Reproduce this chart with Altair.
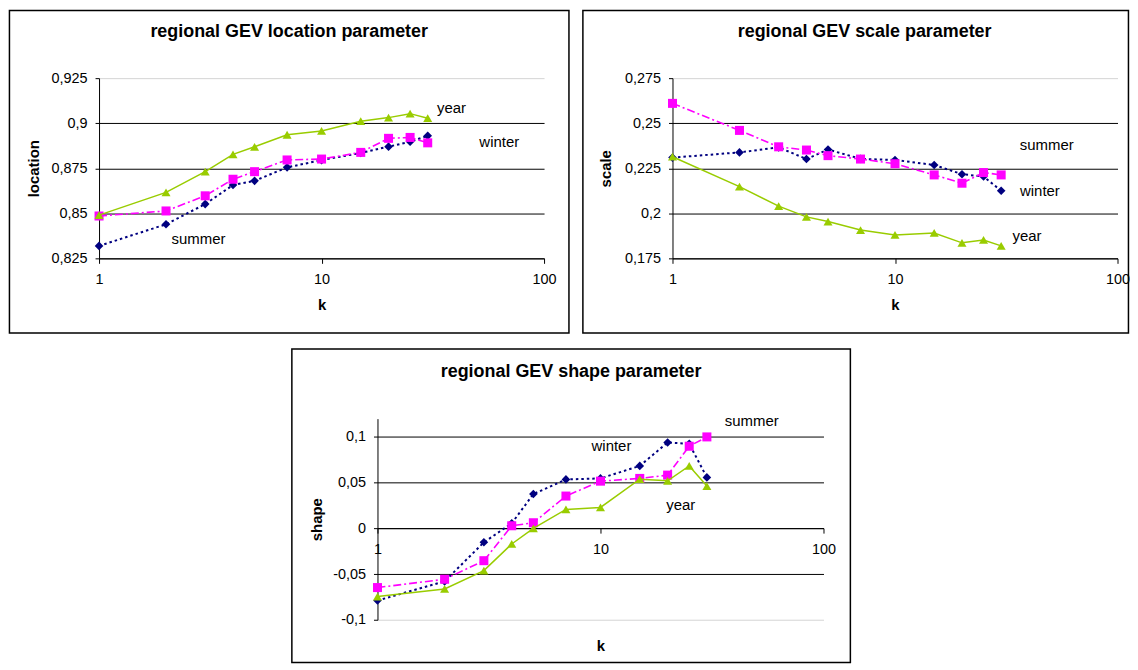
import altair as alt
import pandas as pd

# ---------------- data ----------------
K = [1, 2, 3, 4, 5, 7, 10, 15, 20, 25, 30]

LOC_WINTER = [0.8319, 0.8439, 0.8551, 0.8657, 0.8680, 0.8755, 0.8795, 0.8835, 0.8870, 0.8897, 0.8930]
LOC_SUMMER = [0.8485, 0.8513, 0.8597, 0.8689, 0.8731, 0.8796, 0.8801, 0.8838, 0.8916, 0.8921, 0.8891]
LOC_YEAR = [0.8490, 0.8616, 0.8731, 0.8827, 0.8869, 0.8936, 0.8957, 0.9011, 0.9031, 0.9053, 0.9028]

SCALE_WINTER = [0.2309, 0.2338, 0.2366, 0.2301, 0.2354, 0.2302, 0.2296, 0.2268, 0.2217, 0.2204, 0.2125]
SCALE_SUMMER = [0.2610, 0.2460, 0.2369, 0.2351, 0.2320, 0.2301, 0.2275, 0.2213, 0.2167, 0.2226, 0.2213]
SCALE_YEAR = [0.2314, 0.2148, 0.2040, 0.1980, 0.1954, 0.1907, 0.1880, 0.1891, 0.1836, 0.1852, 0.1819]

SHAPE_WINTER = [-0.0790, -0.0580, -0.0153, 0.0055, 0.0375, 0.0535, 0.0546, 0.0683, 0.0939, 0.0924, 0.0557]
SHAPE_SUMMER = [-0.0648, -0.0557, -0.0354, 0.0028, 0.0061, 0.0353, 0.0516, 0.0546, 0.0582, 0.0898, 0.1000]
SHAPE_YEAR = [-0.0747, -0.0663, -0.0463, -0.0171, 0.0000, 0.0207, 0.0229, 0.0538, 0.0520, 0.0683, 0.0462]

LOC_LABEL_TEXT = ["year", "winter", "summer"]
LOC_LABEL_K = [38.4, 62.9, 2.8]
LOC_LABEL_V = [0.9085, 0.8897, 0.8358]

SCALE_LABEL_TEXT = ["summer", "winter", "year"]
SCALE_LABEL_K = [48.1, 44.8, 39.2]
SCALE_LABEL_V = [0.2377, 0.2125, 0.1875]

SHAPE_LABEL_TEXT = ["summer", "winter", "year"]
SHAPE_LABEL_K = [47.7, 11.2, 22.9]
SHAPE_LABEL_V = [0.1171, 0.0898, 0.0251]

X_TICKS = [1, 10, 100]
LOC_TICKS = [0.825, 0.85, 0.875, 0.9, 0.925]
SCALE_TICKS = [0.175, 0.2, 0.225, 0.25, 0.275]
SHAPE_TICKS = [-0.1, -0.05, 0, 0.05, 0.1]

FONT = "Liberation Sans"

STYLE = {
    "winter": dict(color="#000080", dash=[2.5, 3], width=2, shape="diamond", size=75),
    "summer": dict(color="#FF00FF", dash=[8, 3, 2, 3], width=1.6, shape="square", size=82),
    "year": dict(color="#99CC00", dash=None, width=1.5, shape="triangle-up", size=82),
}


def panel(title, ytitle, ydomain, yticks, grey_tick, series, lab_text, lab_k, lab_v,
          w, h, frame, title_xy, x_offset, x_title_pad, y_title_pad, spacer_left=None):
    xscale = alt.Scale(type="log", domain=[1, 100], nice=False)
    yscale = alt.Scale(domain=ydomain, nice=False, zero=False)
    xaxis_kw = dict(values=X_TICKS, labelExpr="toString(datum.value)", labelFlush=False,
                    grid=False, tickSize=5, labelPadding=9, title="k",
                    titlePadding=x_title_pad)
    if x_offset:
        xaxis_kw["offset"] = x_offset
    xaxis = alt.Axis(**xaxis_kw)
    yaxis = alt.Axis(values=yticks, labelExpr="replace(toString(datum.value), '.', ',')",
                     grid=True,
                     gridColor={"condition": {"test": "datum.value == %r" % grey_tick,
                                              "value": "#d4d4d4"},
                                "value": "black"},
                     gridWidth=1, tickSize=4, labelPadding=8, title=ytitle,
                     titlePadding=y_title_pad)
    X = alt.X("k:Q", scale=xscale, axis=xaxis)
    Y = alt.Y("v:Q", scale=yscale, axis=yaxis)

    layers = []
    if spacer_left is not None:
        spacer = alt.Chart(alt.Data(values=[{"a": 1}])).mark_rect(
            fill="white", fillOpacity=0, strokeOpacity=0
        ).encode(x=alt.value(spacer_left), x2=alt.value(frame[0]),
                 y=alt.value(frame[2]), y2=alt.value(frame[2] + 1))
        layers.append(spacer)
    border = alt.Chart(alt.Data(values=[{"a": 1}])).mark_rect(
        fill="white", fillOpacity=0, stroke="black", strokeWidth=1.5
    ).encode(x=alt.value(frame[0]), x2=alt.value(frame[1]),
             y=alt.value(frame[2]), y2=alt.value(frame[3]))
    layers.append(border)

    for name, vals in series:
        st = STYLE[name]
        df = pd.DataFrame({"k": K, "v": vals})
        line_kw = dict(color=st["color"], strokeWidth=st["width"])
        if st["dash"]:
            line_kw["strokeDash"] = st["dash"]
        layers.append(alt.Chart(df).mark_line(**line_kw).encode(x=X, y=Y))
        layers.append(alt.Chart(df).mark_point(filled=True, shape=st["shape"], size=st["size"],
                                               color=st["color"], opacity=1).encode(x=X, y=Y))

    ldf = pd.DataFrame({"k": lab_k, "v": lab_v, "t": lab_text})
    layers.append(alt.Chart(ldf).mark_text(font=FONT, fontSize=15, color="black",
                                           align="center", baseline="middle").encode(
        x=X, y=Y, text="t:N"))

    ttl = alt.Chart(alt.Data(values=[{"a": 1}])).mark_text(
        text=title, font=FONT, fontSize=18, fontWeight="bold", color="black",
        align="center", baseline="middle"
    ).encode(x=alt.value(title_xy[0]), y=alt.value(title_xy[1]))
    layers.append(ttl)

    return alt.layer(*layers).properties(width=w, height=h)


loc = panel("regional GEV location parameter", "location", [0.825, 0.925], LOC_TICKS, 0.925,
            [("winter", LOC_WINTER), ("summer", LOC_SUMMER), ("year", LOC_YEAR)],
            LOC_LABEL_TEXT, LOC_LABEL_K, LOC_LABEL_V,
            447, 181, (-90, 472, -68, 256), (191, -46), 0, 12, 10)

scl = panel("regional GEV scale parameter", "scale", [0.175, 0.275], SCALE_TICKS, 0.275,
            [("winter", SCALE_WINTER), ("summer", SCALE_SUMMER), ("year", SCALE_YEAR)],
            SCALE_LABEL_TEXT, SCALE_LABEL_K, SCALE_LABEL_V,
            447, 181, (-90, 458, -68, 256), (193, -46), 0, 12, 11)

shp = panel("regional GEV shape parameter", "shape", [-0.1, 0.12], SHAPE_TICKS, -0.1,
            [("winter", SHAPE_WINTER), ("summer", SHAPE_SUMMER), ("year", SHAPE_YEAR)],
            SHAPE_LABEL_TEXT, SHAPE_LABEL_K, SHAPE_LABEL_V,
            448, 202, (-86, 475, -70, 245), (194.5, -47), -92, 83, 8, spacer_left=-101)

top = alt.hconcat(loc, scl, spacing=12)
chart = alt.vconcat(top, shp, spacing=14, center=True).properties(padding=0).configure(
    font=FONT
).configure_view(strokeWidth=0).configure_axis(
    labelFont=FONT, labelFontSize=14.5, labelColor="black",
    titleFont=FONT, titleFontSize=15, titleFontWeight="bold", titleColor="black",
    domainColor="black", tickColor="black", domainWidth=1
)

chart.save("out.html", embed_options={"renderer": "svg", "actions": False})
